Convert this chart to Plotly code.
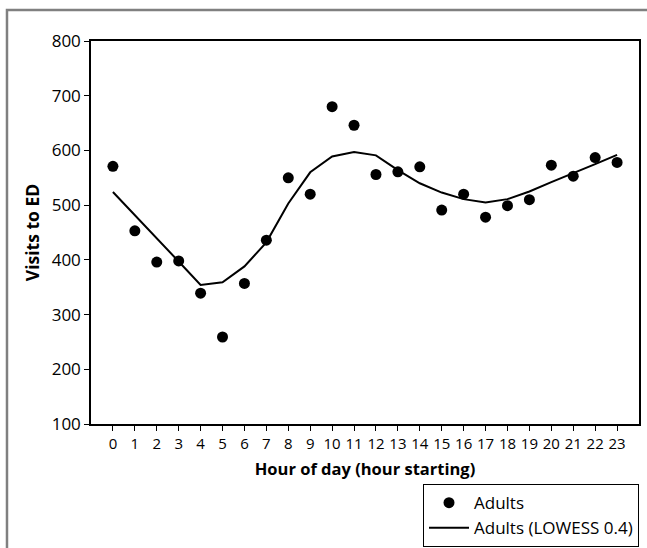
import plotly.graph_objects as go

hours = list(range(24))
adults = [571, 453, 396, 398, 339, 259, 357, 436, 550, 520, 680, 646,
          556, 561, 570, 491, 520, 478, 499, 510, 573, 553, 587, 578]
lowess = [524, 482, 440, 397, 354, 359, 388, 432, 503, 560, 589, 597,
          591, 564, 540, 523, 511, 505, 511, 525, 542, 558, 575, 592]
tick_labels = [str(h) for h in hours]

FONT = "Open Sans"

fig = go.Figure()
fig.add_trace(go.Scatter(
    x=hours, y=adults, mode="markers", name="Adults",
    marker=dict(color="black", size=11),
))
fig.add_trace(go.Scatter(
    x=hours, y=lowess, mode="lines", name="Adults (LOWESS 0.4)",
    line=dict(color="black", width=2),
))

fig.update_layout(
    width=647, height=548,
    margin=dict(l=91, r=8, t=41, b=124, autoexpand=False),
    paper_bgcolor="white", plot_bgcolor="white",
    font=dict(family=FONT, color="black", size=15),
    showlegend=True,
    legend=dict(
        x=1, xanchor="right", y=-0.157, yanchor="top",
        bordercolor="black", borderwidth=1,
        font=dict(size=17, family=FONT),
        tracegroupgap=0, itemwidth=40,
    ),
    xaxis=dict(
        range=[-1, 24], tickvals=hours, ticktext=tick_labels,
        ticks="outside", ticklen=5, tickcolor="black",
        showline=True, linecolor="black", linewidth=1.5, mirror=True,
        showgrid=False, zeroline=False, automargin=False,
        tickfont=dict(size=15),
        title=dict(text="<b>Hour of day (hour starting)</b>",
                   font=dict(size=16.5), standoff=12),
    ),
    yaxis=dict(
        range=[100, 800], dtick=100,
        ticks="outside", ticklen=5, tickcolor="black",
        showline=True, linecolor="black", linewidth=1.5, mirror=True,
        showgrid=False, zeroline=False, automargin=False,
        tickfont=dict(size=17),
        title=dict(text="<b>Visits to ED</b>", font=dict(size=17.5), standoff=8),
    ),
    shapes=[dict(
        type="rect", xref="paper", yref="paper",
        x0=-0.1533, x1=1.2, y0=-0.5, y1=1.081,
        line=dict(color="#808080", width=2.5), layer="below",
    )],
)

fig.write_html("out.html",
               config={"displayModeBar": False},
               post_script="document.body.style.margin='0';document.body.style.padding='0';")
